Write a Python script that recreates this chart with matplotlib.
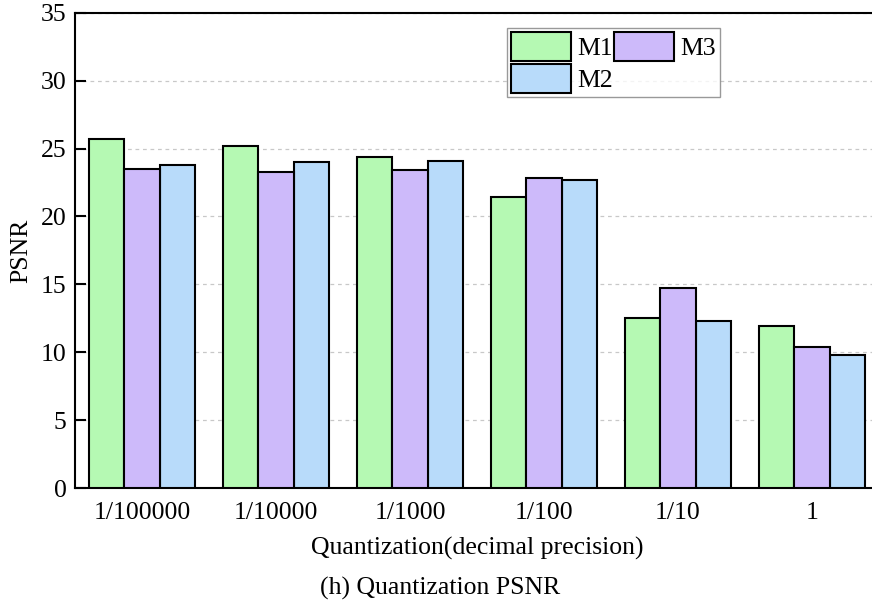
import matplotlib
matplotlib.use("Agg")
import matplotlib.pyplot as plt
import numpy as np

categories = ["1/100000", "1/10000", "1/1000", "1/100", "1/10", "1"]
m1 = [25.7, 25.2, 24.4, 21.4, 12.5, 11.95]
m3 = [23.5, 23.3, 23.4, 22.85, 14.75, 10.4]
m2 = [23.8, 24.0, 24.1, 22.65, 12.3, 9.8]

plt.rcParams['font.family'] = ['Liberation Serif', 'DejaVu Serif']
fs = 18.5

fig = plt.figure(figsize=(8.72, 6.07), dpi=100)
ax = fig.add_axes([0.086, 0.196, 0.922, 0.783])

x = np.arange(len(categories))
w = 0.266
c_green = "#b5f9b3"
c_purple = "#cdbafa"
c_blue = "#b8dbfa"
b1 = ax.bar(x - w, m1, w, color=c_green, edgecolor="black", linewidth=1.5, label="M1", zorder=3)
b2 = ax.bar(x + w, m2, w, color=c_blue, edgecolor="black", linewidth=1.5, label="M2", zorder=3)
b3 = ax.bar(x, m3, w, color=c_purple, edgecolor="black", linewidth=1.5, label="M3", zorder=3)

ax.set_xlim(-0.5, 5.5)
ax.set_ylim(0, 35)
ax.set_yticks(range(0, 36, 5))
ax.set_xticks(x)
ax.set_xticklabels(categories, fontsize=fs)
ax.tick_params(axis='y', direction='in', length=8, width=1.5, labelsize=fs, pad=6)
ax.tick_params(axis='x', length=0, labelsize=fs, pad=10)
for s in ax.spines.values():
    s.set_linewidth(1.5)
ax.yaxis.grid(True, linestyle=(0, (3, 3)), color="#c8c8c8", linewidth=0.9, zorder=0)
ax.set_axisbelow(True)

ax.set_ylabel("PSNR", fontsize=fs, labelpad=6)
ax.set_xlabel("Quantization(decimal precision)", fontsize=fs, labelpad=9)

leg = ax.legend(handles=[b1, b2, b3], labels=["M1", "M2", "M3"], ncol=2,
                loc="upper left", bbox_to_anchor=(0.537, 0.968), fontsize=fs,
                frameon=True, fancybox=False, edgecolor="#808080",
                handlelength=2.35, handleheight=1.37, columnspacing=0.05,
                handletextpad=0.23, labelspacing=0.1, borderpad=0.15, borderaxespad=0)
leg.get_frame().set_linewidth(1.0)

fig.text(0.505, 0.03, "(h) Quantization PSNR", ha="center", va="center", fontsize=fs)

fig.savefig("out.png", dpi=100)
